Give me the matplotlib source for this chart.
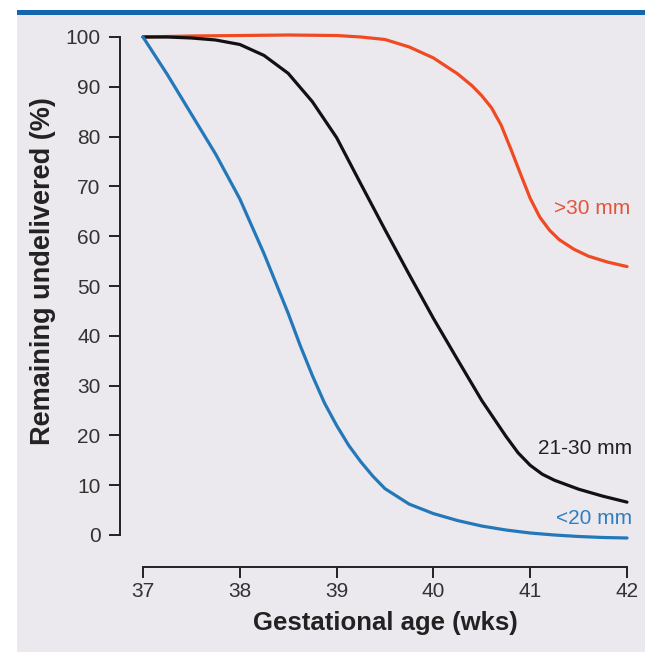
import matplotlib
matplotlib.use("Agg")
import matplotlib.pyplot as plt
from matplotlib.patches import Rectangle

plt.rcParams['font.family'] = ['Liberation Sans', 'DejaVu Sans']

weeks_blue = [37.0, 37.25, 37.5, 37.75, 38.0, 38.125, 38.25, 38.375, 38.5, 38.625,
              38.75, 38.875, 39.0, 39.125, 39.25, 39.375, 39.5, 39.75, 40.0, 40.25,
              40.5, 40.75, 41.0, 41.25, 41.5, 41.75, 42.0]
lt20 = [100, 92.5, 84.5, 76.5, 67.5, 62.0, 56.5, 50.5, 44.5, 38.0,
        32.0, 26.5, 22.0, 18.0, 14.7, 11.8, 9.3, 6.2, 4.3, 2.9,
        1.8, 1.0, 0.4, 0.0, -0.3, -0.5, -0.6]

weeks_black = [37.0, 37.25, 37.5, 37.75, 38.0, 38.25, 38.5, 38.75, 39.0, 39.25,
               39.5, 39.75, 40.0, 40.25, 40.5, 40.75, 40.875, 41.0, 41.125, 41.25,
               41.5, 41.75, 42.0]
mid = [100, 100, 99.8, 99.4, 98.5, 96.3, 92.7, 87.0, 79.8, 70.5,
       61.3, 52.3, 43.5, 35.2, 27.0, 19.8, 16.5, 14.0, 12.2, 11.0,
       9.2, 7.8, 6.6]

weeks_red = [37.0, 37.5, 38.0, 38.5, 39.0, 39.25, 39.5, 39.75, 40.0, 40.25,
             40.4, 40.5, 40.6, 40.7, 40.8, 40.9, 41.0, 41.1, 41.2, 41.3, 41.45,
             41.6, 41.8, 42.0]
gt30 = [100, 100.2, 100.3, 100.4, 100.3, 100.0, 99.5, 98.0, 95.8, 92.6,
        90.2, 88.2, 85.8, 82.3, 77.5, 72.5, 67.6, 63.8, 61.2, 59.3, 57.4,
        56.0, 54.8, 53.9]

labels = [">30 mm", "21-30 mm", "<20 mm"]
xticks = [37, 38, 39, 40, 41, 42]
yticks = [0, 10, 20, 30, 40, 50, 60, 70, 80, 90, 100]

W, H = 645, 652
fig = plt.figure(figsize=(W / 100, H / 100), dpi=100)
fig.patch.set_facecolor('white')
bg = fig.add_axes([0, 0, 1, 1], zorder=-5)
bg.set_axis_off()
bg.set_xlim(0, W)
bg.set_ylim(H, 0)
bg.add_patch(Rectangle((17, 15), W - 17, H - 15, facecolor='#ebe8ee', edgecolor='none'))
bg.add_patch(Rectangle((17, 10), W - 17, 5, facecolor='#1466b0', edgecolor='none'))

ax = fig.add_axes([143 / W, (H - 535) / H, 484 / W, 498 / H])
ax.set_facecolor('none')
ax.set_xlim(37, 42)
ax.set_ylim(0, 100)

c_red, c_black, c_blue = '#f04a23', '#111111', '#2378b9'
kw = dict(lw=2.3, clip_on=False, solid_capstyle='round', solid_joinstyle='round')
ax.plot(weeks_red, gt30, color=c_red, **kw)
ax.plot(weeks_black, mid, color=c_black, **kw)
ax.plot(weeks_blue, lt20, color=c_blue, **kw)

ax.text(42.03, 65.6, labels[0], color='#e2553c', fontsize=15, ha='right', va='center')
ax.text(42.05, 17.3, labels[1], color='#222222', fontsize=15, ha='right', va='center')
ax.text(42.05, 3.3, labels[2], color='#2f7fbf', fontsize=15, ha='right', va='center')

for s in ['top', 'right']:
    ax.spines[s].set_visible(False)
ax.spines['left'].set_position(('outward', 16.5))
ax.spines['bottom'].set_position(('outward', 23))
ax.spines['left'].set_bounds(0, 100)
ax.spines['bottom'].set_bounds(37, 42)
for s in ['left', 'bottom']:
    ax.spines[s].set_linewidth(1.4)
    ax.spines[s].set_color('#222222')

ax.set_xticks(xticks)
ax.set_yticks(yticks)
ax.tick_params(axis='both', length=8, width=1.4, color='#222222', labelcolor='#333333',
               labelsize=15)
ax.tick_params(axis='y', pad=6)
ax.tick_params(axis='x', pad=3)

ax.set_ylabel('Remaining undelivered (%)', fontsize=19.5, fontweight='bold', color='#222222')
ax.yaxis.set_label_coords(-0.18, 0.53)
ax.set_xlabel('Gestational age (wks)', fontsize=18.5, fontweight='bold', color='#222222', labelpad=7)

fig.savefig('out.png', dpi=100)
